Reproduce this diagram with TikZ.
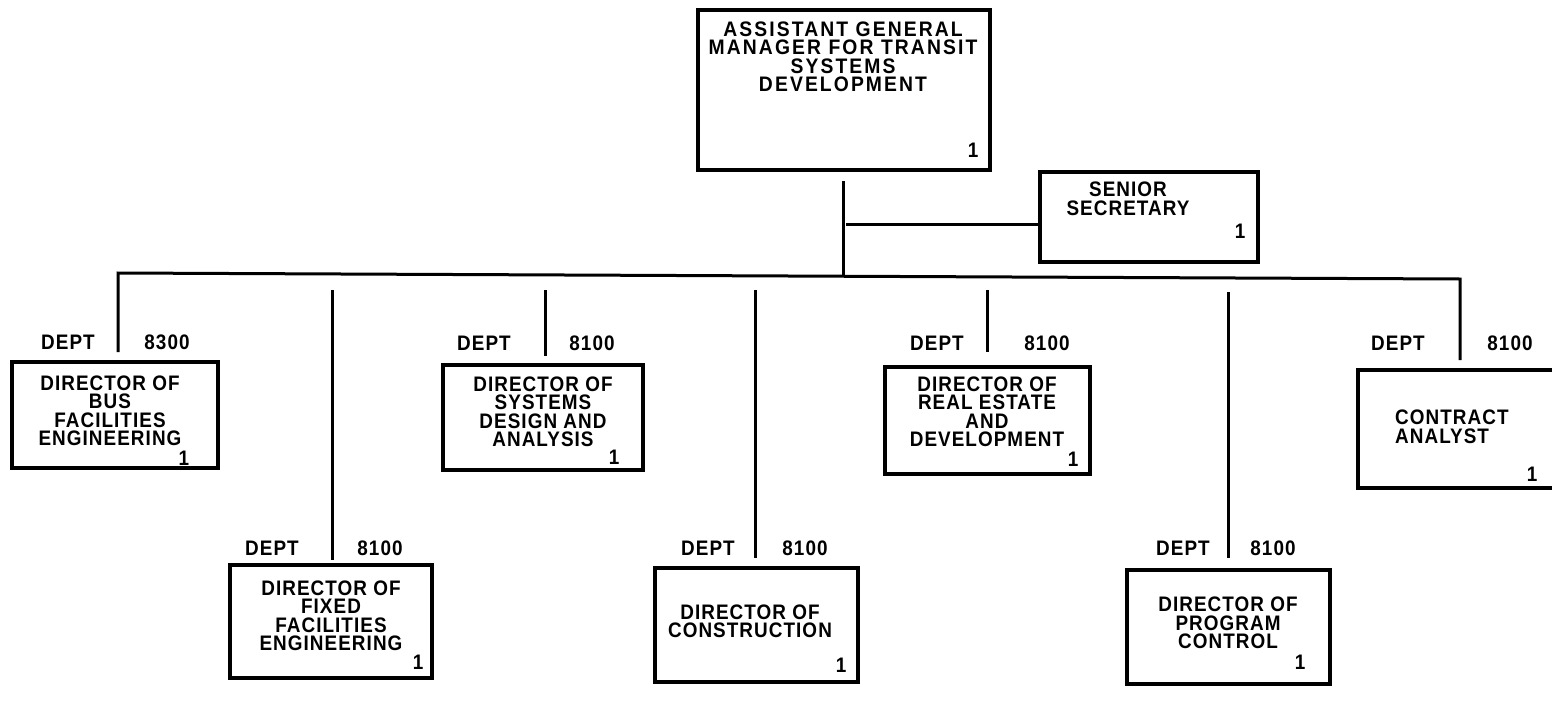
\documentclass[tikz,border=0pt]{standalone}
\usepackage{fontspec}
\setmainfont{Liberation Sans}[LetterSpace=5, FakeStretch=0.9]
\newfontfamily\widefont{Liberation Sans}[LetterSpace=10, FakeStretch=0.92]
\begin{document}
\begin{tikzpicture}[x=1pt,y=-1pt,
  every node/.style={font=\bfseries\fontsize{21}{18.5}\selectfont, inner sep=0pt},
  post/.style={draw, line width=3.2pt, rectangle},
  txt/.style={align=center},
  ltxt/.style={align=left},
  conn/.style={line width=3pt}]
\useasboundingbox (0,0) rectangle (1552,704);
\clip (0,0) rectangle (1552,704);
% top
\node[post, minimum width=292pt, minimum height=160pt] (agm) at (844,90) {};
\node[txt, font=\widefont\bfseries\fontsize{21}{18.5}\selectfont] (agmt) at (843,57) {ASSISTANT GENERAL\\MANAGER FOR TRANSIT\\SYSTEMS\\DEVELOPMENT};
\node (agm1) at (973,150) {1};
% secretary
\node[post, minimum width=218pt, minimum height=90pt] (sec) at (1149,217) {};
\node[txt] (sect) at (1128,199) {SENIOR\\SECRETARY};
\node (sec1) at (1240,231) {1};
% boxes
\node[post, minimum width=206pt, minimum height=106pt] (b1) at (115,415) {};
\node[txt] (b1t) at (110,411) {DIRECTOR OF\\BUS\\FACILITIES\\ENGINEERING};
\node (b1n) at (184,458) {1};
\node (d1a) at (68,342) {DEPT}; \node (d1b) at (167,342) {8300};

\node[post, minimum width=202pt, minimum height=113pt] (b2) at (331,621.5) {};
\node[txt] (b2t) at (331,616) {DIRECTOR OF\\FIXED\\FACILITIES\\ENGINEERING};
\node (b2n) at (418,662) {1};
\node (d2a) at (272,548) {DEPT}; \node (d2b) at (380,548) {8100};

\node[post, minimum width=200pt, minimum height=105pt] (b3) at (543,417.5) {};
\node[txt] (b3t) at (543,412) {DIRECTOR OF\\SYSTEMS\\DESIGN AND\\ANALYSIS};
\node (b3n) at (614,457) {1};
\node (d3a) at (484,343) {DEPT}; \node (d3b) at (592,343) {8100};

\node[post, minimum width=203pt, minimum height=114pt] (b4) at (756.5,625) {};
\node[txt] (b4t) at (750,621.5) {DIRECTOR OF\\CONSTRUCTION};
\node (b4n) at (841,665) {1};
\node (d4a) at (708,548) {DEPT}; \node (d4b) at (805,548) {8100};

\node[post, minimum width=205pt, minimum height=107pt] (b5) at (987.5,420.5) {};
\node[txt] (b5t) at (987,412) {DIRECTOR OF\\REAL ESTATE\\AND\\DEVELOPMENT};
\node (b5n) at (1073,459) {1};
\node (d5a) at (937,343) {DEPT}; \node (d5b) at (1047,343) {8100};

\node[post, minimum width=203pt, minimum height=114pt] (b6) at (1228.5,627) {};
\node[txt] (b6t) at (1228,623) {DIRECTOR OF\\PROGRAM\\CONTROL};
\node (b6n) at (1300,662) {1};
\node (d6a) at (1183,548) {DEPT}; \node (d6b) at (1273,548) {8100};

\node[post, minimum width=207pt, minimum height=118pt] (b7) at (1461.5,429) {};
\node[ltxt, anchor=west] (b7t) at (1395,427) {CONTRACT\\ANALYST};
\node (b7n) at (1532,474) {1};
\node (d7a) at (1398,343) {DEPT}; \node (d7b) at (1510,343) {8100};

% connectors
\coordinate (stemtop) at (843,181);
\coordinate (busM) at (843,276);
\coordinate (busL) at (118,273);
\coordinate (busR) at (1460,279);
\coordinate (secj) at (846,224);
\draw[conn] (stemtop) -- (busM);
\draw[conn] (secj) -- (secj -| sec.west);
\coordinate (e1) at (118,352);
\coordinate (e7) at (1460,360);
\draw[conn] (e1) -- (busL) -- (busR) -- (e7);
\coordinate (s2) at (332,290); \coordinate (e2) at (332,560);
\coordinate (s3) at (545,290); \coordinate (e3) at (545,356);
\coordinate (s4) at (755,290); \coordinate (e4) at (755,558);
\coordinate (s5) at (987,290); \coordinate (e5) at (987,352);
\coordinate (s6) at (1228,292); \coordinate (e6) at (1228,558);
\draw[conn] (s2) -- (e2);
\draw[conn] (s3) -- (e3);
\draw[conn] (s4) -- (e4);
\draw[conn] (s5) -- (e5);
\draw[conn] (s6) -- (e6);
\end{tikzpicture}
\end{document}
